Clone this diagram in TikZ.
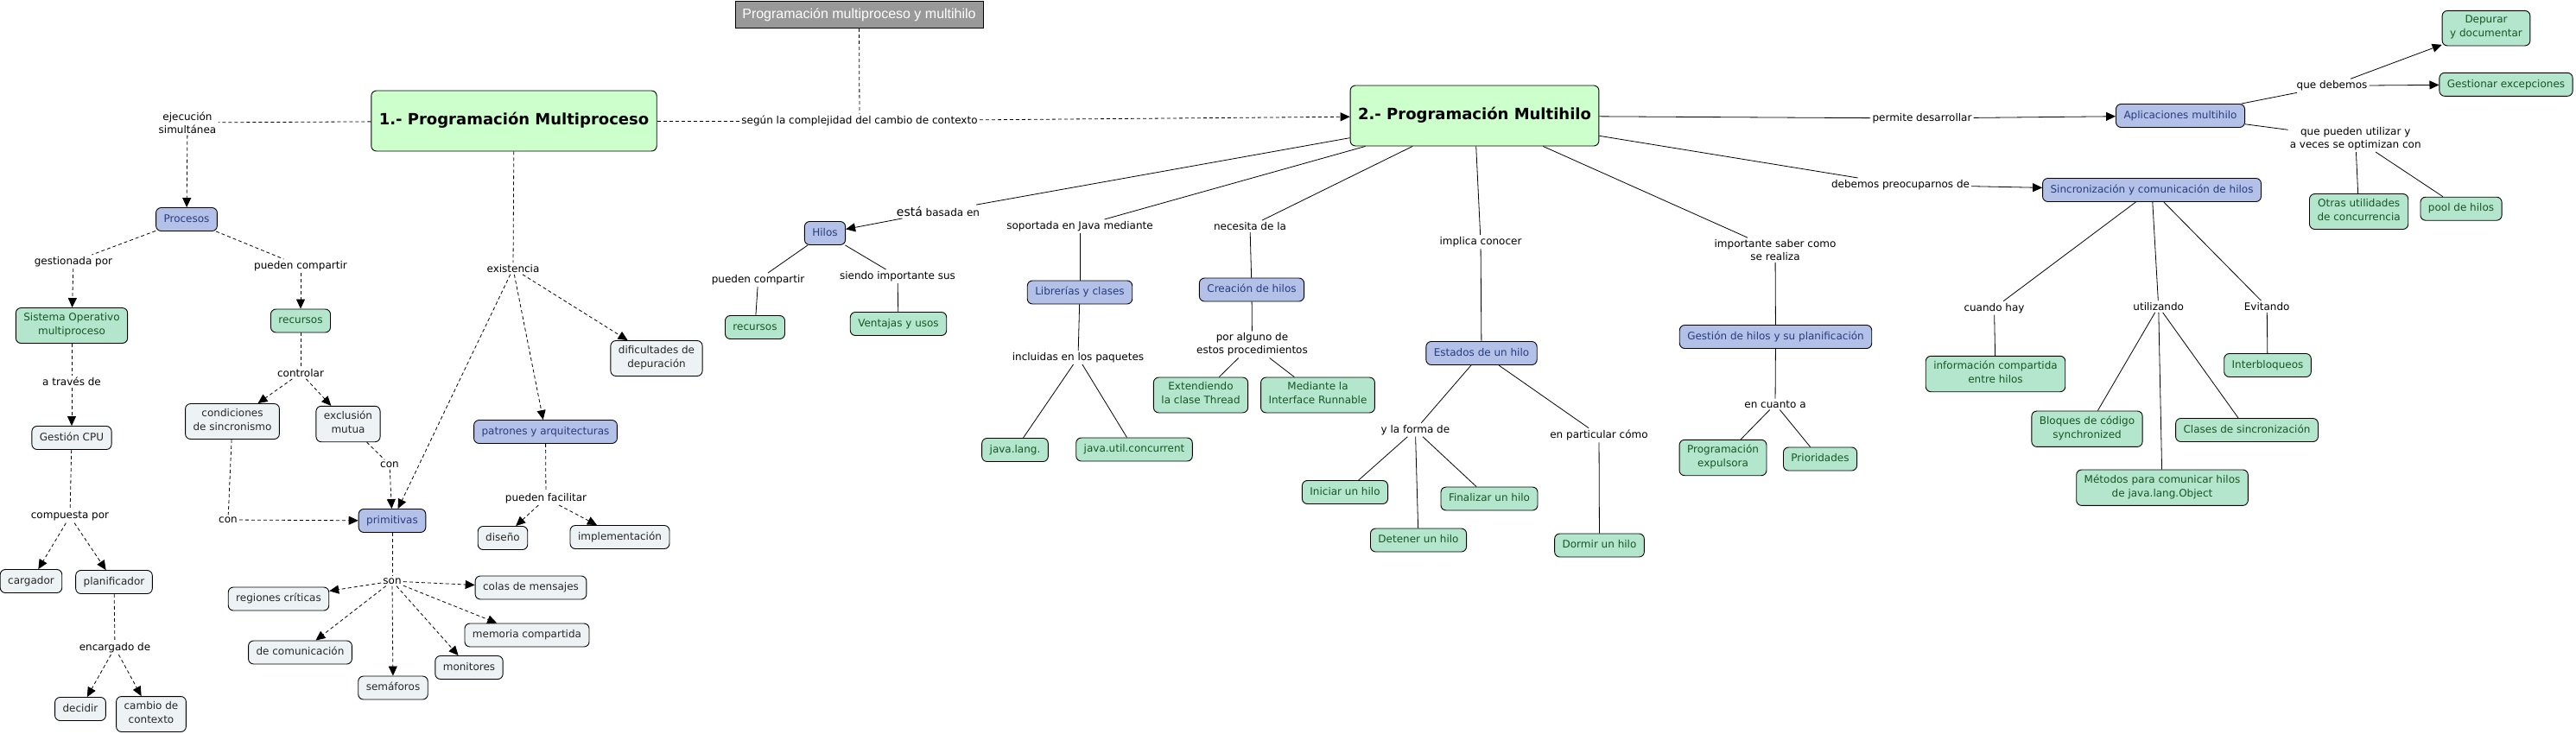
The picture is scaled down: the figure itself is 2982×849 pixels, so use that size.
\documentclass[tikz,border=0pt]{standalone}
\usepackage{fontspec}
\setmainfont{DejaVu Sans}
\newfontfamily\titlefont{Liberation Sans}
\usetikzlibrary{arrows.meta}

\definecolor{cmapblue}{RGB}{179,193,232}
\definecolor{cmapbluetext}{RGB}{40,60,125}
\definecolor{cmapgreen}{RGB}{179,230,204}
\definecolor{cmapgreentext}{RGB}{25,85,35}
\definecolor{cmapgray}{RGB}{237,243,245}
\definecolor{cmaptop}{RGB}{204,255,204}
\definecolor{cmaptitle}{RGB}{153,153,153}

\tikzset{
  concept/.style={draw, rounded corners=6pt, line width=0.9pt, align=center,
    inner xsep=9pt, inner ysep=5.5pt, font=\fontsize{12}{16}\selectfont,
    execute at begin node=\strut, execute at end node=\strut},
  conblue/.style={concept, fill=cmapblue, text=cmapbluetext},
  congreen/.style={concept, fill=cmapgreen, text=cmapgreentext},
  congray/.style={concept, fill=cmapgray, text=black!85},
  conmain/.style={concept, fill=cmaptop, font=\fontsize{18}{21}\selectfont\bfseries,
    minimum height=70pt},
  linkph/.style={align=center, inner sep=2pt, font=\fontsize{12}{15}\selectfont},
  dlink/.style={line width=0.8pt, dash pattern=on 4pt off 3pt},
  slink/.style={line width=0.8pt},
  arr/.style={-{Triangle[length=11pt,width=10pt]}}
}

\begin{document}
\begin{tikzpicture}[x=1pt,y=-1pt]
\path[use as bounding box, fill=white] (0,0) rectangle (2982,849);

% Title and the two main concepts
\node[draw, fill=cmaptitle, text=white, line width=0.9pt, minimum width=287pt,
  minimum height=31pt, font=\titlefont\fontsize{16}{18}\selectfont] (title) at (994.5,17)
  {Programación multiproceso y multihilo};
\node[conmain, minimum width=327pt] (mproc) at (595,140) {1.- Programación Multiproceso};
\node[conmain, minimum width=284pt] (mhilo) at (1707,134) {2.- Programación Multihilo};
\node[linkph] (segun) at (995,140) {según la complejidad del cambio de contexto};
\draw[dlink] (title) -- (segun);
\draw[dlink] (mproc) -- (segun);
\draw[dlink,arr] (segun) -- (mhilo);

% Multiproceso: procesos
\node[linkph] (ejec) at (217,142) {ejecución\\simultánea};
\node[conblue] (proc) at (216,254) {Procesos};
\node[linkph] (gest) at (85,303) {gestionada por};
\node[linkph] (pcomp) at (348,308) {pueden compartir};
\node[congreen] (so) at (83,377) {Sistema Operativo\\multiproceso};
\node[congreen] (recproc) at (348,371.5) {recursos};
\node[linkph] (atrav) at (83,442) {a través de};
\node[congray] (gcpu) at (83,507) {Gestión CPU};
\node[linkph] (compu) at (81,598) {compuesta por};
\node[congray] (carg) at (36,673) {cargador};
\node[congray] (plan) at (132,674) {planificador};
\node[linkph] (encar) at (133,750) {encargado de};
\node[congray] (deci) at (93,821) {decidir};
\node[congray] (camb) at (175,827) {cambio de\\contexto};
\draw[dlink] (mproc) -- (ejec);
\draw[dlink,arr] (ejec) -- (proc);
\draw[dlink] (proc) -- (gest);
\draw[dlink,arr] (gest) -- (so);
\draw[dlink] (proc) -- (pcomp);
\draw[dlink,arr] (pcomp) -- (recproc);
\draw[dlink] (so) -- (atrav);
\draw[dlink,arr] (atrav) -- (gcpu);
\draw[dlink] (gcpu) -- (compu);
\draw[dlink,arr] (compu) -- (carg);
\draw[dlink,arr] (compu) -- (plan);
\draw[dlink] (plan) -- (encar);
\draw[dlink,arr] (encar) -- (deci);
\draw[dlink,arr] (encar) -- (camb);

% Multiproceso: control de recursos y primitivas
\node[linkph] (contr) at (348,432) {controlar};
\node[congray] (cond) at (269,488) {condiciones\\de sincronismo};
\node[congray] (excl) at (403,491) {exclusión\\mutua};
\node[linkph] (conA) at (264,602) {con};
\node[linkph] (conB) at (451,538) {con};
\node[conblue] (prim) at (454,603) {primitivas};
\node[linkph] (son) at (454,673) {son};
\node[congray] (regi) at (322.5,693.5) {regiones críticas};
\node[congray] (colas) at (614.5,680.5) {colas de mensajes};
\node[congray] (comu) at (347.5,755.5) {de comunicación};
\node[congray] (memo) at (610,735.5) {memoria compartida};
\node[congray] (moni) at (543,773) {monitores};
\node[congray] (sema) at (455,796.5) {semáforos};
\draw[dlink] (recproc) -- (contr);
\draw[dlink,arr] (contr) -- (cond);
\draw[dlink,arr] (contr) -- (excl);
\draw[dlink] (cond) -- (conA);
\draw[dlink,arr] (conA) -- (prim);
\draw[dlink] (excl) -- (conB);
\draw[dlink,arr] (conB) -- (prim);
\draw[dlink] (prim) -- (son);
\draw[dlink,arr] (son) -- (regi);
\draw[dlink,arr] (son) -- (colas);
\draw[dlink,arr] (son) -- (comu);
\draw[dlink,arr] (son) -- (memo);
\draw[dlink,arr] (son) -- (moni);
\draw[dlink,arr] (son) -- (sema);

% Multiproceso: existencia
\node[linkph] (exist) at (594,311) {existencia};
\node[conblue] (patr) at (631.5,500) {patrones y arquitecturas};
\node[congray] (dific) at (760,415) {dificultades de\\depuración};
\node[linkph] (pfac) at (632,577) {pueden facilitar};
\node[congray] (dise) at (582,623) {diseño};
\node[congray] (impl) at (717.5,622) {implementación};
\draw[dlink] (mproc) -- (exist);
\draw[dlink,arr] (exist) -- (prim);
\draw[dlink,arr] (exist) -- (patr);
\draw[dlink,arr] (exist) -- (dific);
\draw[dlink] (patr) -- (pfac);
\draw[dlink,arr] (pfac) -- (dise);
\draw[dlink,arr] (pfac) -- (impl);

% Multihilo: hilos, librerias y creacion
\node[linkph] (basada) at (1086,245) {{\fontsize{14}{15}\selectfont está} basada en};
\node[conblue] (hilos) at (955,270) {Hilos};
\node[linkph] (pcomph) at (877.6,324) {pueden compartir};
\node[linkph] (siendo) at (1039,320) {siendo importante sus};
\node[congreen] (rechilo) at (874,379) {recursos};
\node[congreen] (venta) at (1040,375) {Ventajas y usos};
\node[linkph] (soport) at (1250,262) {soportada en Java mediante};
\node[conblue] (libr) at (1250,338.5) {Librerías y clases};
\node[linkph] (inclu) at (1248,414) {incluidas en los paquetes};
\node[congreen] (jlang) at (1175,521) {java.lang.};
\node[congreen] (jutil) at (1313,520.5) {java.util.concurrent};
\node[linkph] (neces) at (1447,262) {necesita de la};
\node[conblue] (crea) at (1449,335.5) {Creación de hilos};
\node[linkph] (poralg) at (1449.5,399) {por alguno de\\estos procedimientos};
\node[congreen] (exte) at (1390,457.5) {Extendiendo\\la clase Thread};
\node[congreen] (medi) at (1525.5,457.5) {Mediante la\\Interface Runnable};
\draw[slink] (mhilo) -- (basada);
\draw[slink,arr] (basada) -- (hilos);
\draw[slink] (hilos) -- (pcomph);
\draw[slink] (pcomph) -- (rechilo);
\draw[slink] (hilos) -- (siendo);
\draw[slink] (siendo) -- (venta);
\draw[slink] (mhilo) -- (soport);
\draw[slink] (soport) -- (libr);
\draw[slink] (libr) -- (inclu);
\draw[slink] (inclu) -- (jlang);
\draw[slink] (inclu) -- (jutil);
\draw[slink] (mhilo) -- (neces);
\draw[slink] (neces) -- (crea);
\draw[slink] (crea) -- (poralg);
\draw[slink] (poralg) -- (exte);
\draw[slink] (poralg) -- (medi);

% Multihilo: estados y planificacion
\node[linkph] (implic) at (1714,280) {implica conocer};
\node[conblue] (esta) at (1715,409) {Estados de un hilo};
\node[linkph] (yforma) at (1638.4,497.7) {y la forma de};
\node[linkph] (enpart) at (1851,504) {en particular cómo};
\node[congreen] (inic) at (1557,570) {Iniciar un hilo};
\node[congreen] (dete) at (1642,625.5) {Detener un hilo};
\node[congreen] (fina) at (1724,577.5) {Finalizar un hilo};
\node[congreen] (dorm) at (1851.5,631.5) {Dormir un hilo};
\node[linkph] (impsab) at (2055,289.5) {importante saber como\\se realiza};
\node[conblue] (gesth) at (2055.5,390) {Gestión de hilos y su planificación};
\node[linkph] (encuan) at (2055,468) {en cuanto a};
\node[congreen] (pexp) at (1994.5,530) {Programación\\expulsora};
\node[congreen] (prio) at (2107,531.5) {Prioridades};
\draw[slink] (mhilo) -- (implic);
\draw[slink] (implic) -- (esta);
\draw[slink] (esta) -- (yforma);
\draw[slink] (yforma) -- (inic);
\draw[slink] (yforma) -- (dete);
\draw[slink] (yforma) -- (fina);
\draw[slink] (esta) -- (enpart);
\draw[slink] (enpart) -- (dorm);
\draw[slink] (mhilo) -- (impsab);
\draw[slink] (impsab) -- (gesth);
\draw[slink] (gesth) -- (encuan);
\draw[slink] (encuan) -- (pexp);
\draw[slink] (encuan) -- (prio);

% Multihilo: aplicaciones y sincronizacion
\node[linkph] (permi) at (2225,137) {permite desarrollar};
\node[conblue] (apli) at (2524,134) {Aplicaciones multihilo};
\node[linkph] (quedeb) at (2699.5,99.3) {que debemos};
\node[congreen] (depu) at (2878,32.7) {Depurar\\y documentar};
\node[congreen] (gexc) at (2901,97.8) {Gestionar excepciones};
\node[linkph] (quepue) at (2726.7,160.5) {que pueden utilizar y\\a veces se optimizan con};
\node[congreen] (otras) at (2730.6,245) {Otras utilidades\\de concurrencia};
\node[congreen] (pool) at (2849,241.7) {pool de hilos};
\node[linkph] (debpre) at (2200,214) {debemos preocuparnos de};
\node[conblue] (sinc) at (2491,220) {Sincronización y comunicación de hilos};
\node[linkph] (cuando) at (2308.5,356.7) {cuando hay};
\node[linkph] (utiliz) at (2498.7,355) {utilizando};
\node[linkph] (evita) at (2624.2,355) {Evitando};
\node[congreen] (info) at (2310,433) {información compartida\\entre hilos};
\node[congreen] (inter) at (2625,423) {Interbloqueos};
\node[congreen] (bloq) at (2416,496.7) {Bloques de código\\synchronized};
\node[congreen] (meto) at (2503,564.7) {Métodos para comunicar hilos\\de java.lang.Object};
\node[congreen] (clas) at (2601,498) {Clases de sincronización};
\draw[slink] (mhilo) -- (permi);
\draw[slink,arr] (permi) -- (apli);
\draw[slink] (apli) -- (quedeb);
\draw[slink,arr] (quedeb) -- (depu);
\draw[slink,arr] (quedeb) -- (gexc);
\draw[slink] (apli) -- (quepue);
\draw[slink] (quepue) -- (otras);
\draw[slink] (quepue) -- (pool);
\draw[slink] (mhilo) -- (debpre);
\draw[slink,arr] (debpre) -- (sinc);
\draw[slink] (sinc) -- (cuando);
\draw[slink] (cuando) -- (info);
\draw[slink] (sinc) -- (utiliz);
\draw[slink] (utiliz) -- (bloq);
\draw[slink] (utiliz) -- (meto);
\draw[slink] (utiliz) -- (clas);
\draw[slink] (sinc) -- (evita);
\draw[slink] (evita) -- (inter);
\end{tikzpicture}
\end{document}
